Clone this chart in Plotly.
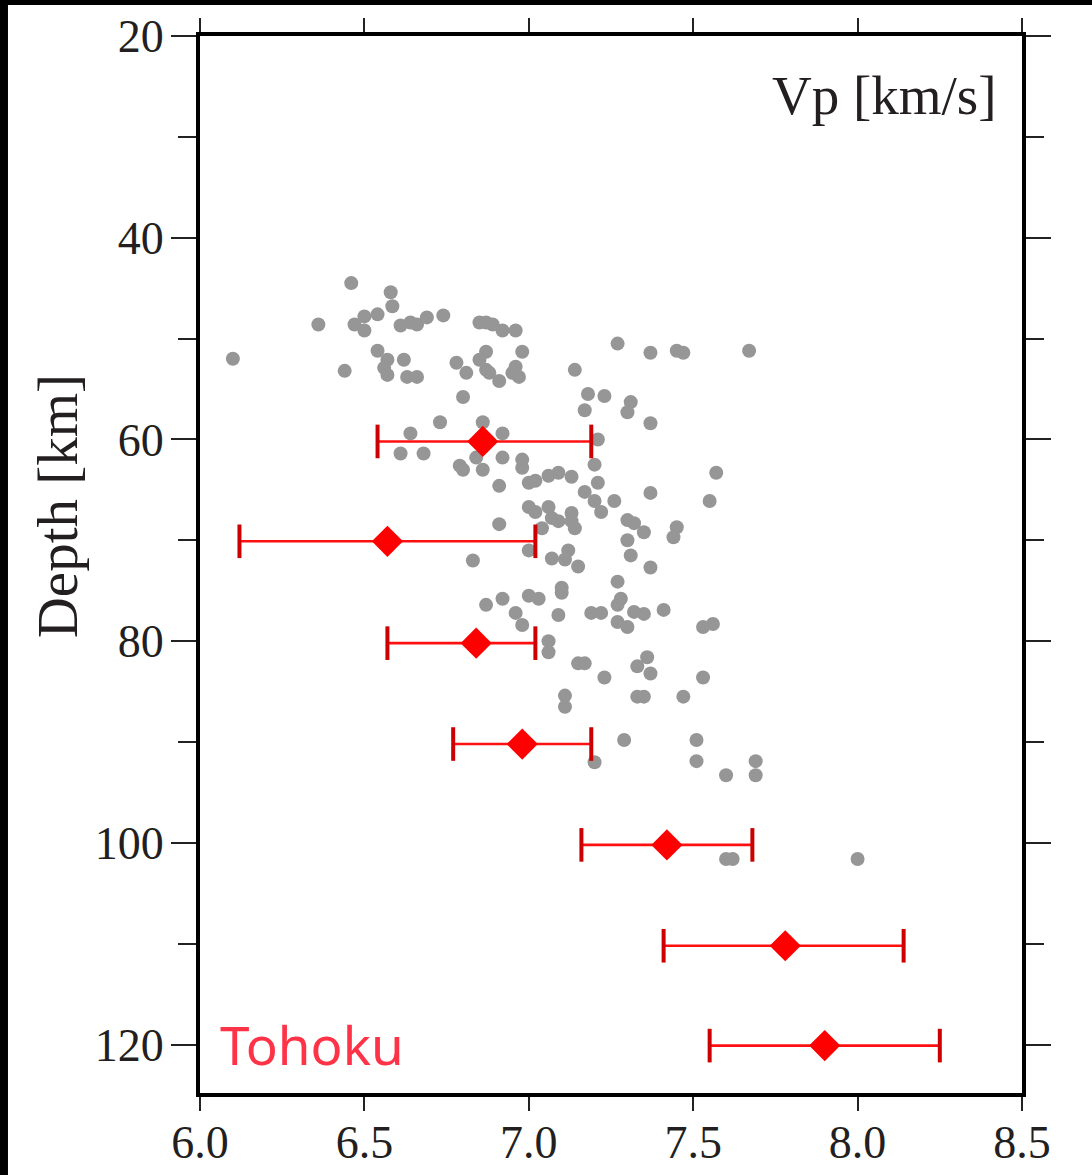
import plotly.graph_objects as go

# Individual P-wave velocity estimates (km/s) and their depths (km)
vp_samples = [
    6.46, 6.58, 6.585, 6.36, 6.10, 6.47, 6.50, 6.54, 6.50, 6.61,
    6.64, 6.66, 6.69, 6.74, 6.85, 6.87, 6.89, 6.92, 6.96, 6.98,
    6.54, 6.57, 6.62, 6.56, 6.57, 6.44, 6.63, 6.66, 6.78, 6.81,
    6.87, 6.85, 6.87, 6.88, 6.91, 6.95, 6.96, 6.97, 6.80, 6.73,
    6.86, 6.64, 6.92, 6.61, 6.68, 6.84, 6.92, 6.79, 6.80, 6.86,
    6.91, 6.98, 6.98, 7.00, 7.02, 7.00, 7.02, 7.06, 7.27, 7.37,
    7.45, 7.47, 7.67, 7.14, 7.18, 7.23, 7.17, 7.31, 7.30, 7.37,
    7.21, 7.20, 7.06, 7.09, 7.13, 7.21, 7.17, 7.20, 7.26, 7.37,
    7.57, 7.55, 7.22, 7.07, 7.09, 7.13, 7.13, 7.14, 7.04, 6.91,
    7.30, 7.32, 7.35, 7.30, 7.31, 7.45, 7.44, 7.00, 7.12, 7.07,
    7.11, 7.15, 6.83, 7.37, 7.27, 7.10, 7.10, 7.28, 7.27, 6.87,
    6.92, 7.00, 7.03, 6.96, 6.98, 7.09, 7.19, 7.22, 7.32, 7.35,
    7.41, 7.27, 7.30, 7.53, 7.56, 7.06, 7.06, 7.15, 7.17, 7.23,
    7.33, 7.36, 7.37, 7.53, 7.11, 7.11, 7.33, 7.35, 7.47, 7.29,
    7.51, 7.20, 7.51, 7.60, 7.69, 7.69, 7.60, 7.62, 8.00,
]
depth_samples = [
    44.5, 45.4, 46.8, 48.6, 52.0, 48.6, 47.8, 47.6, 49.2, 48.7,
    48.4, 48.6, 47.9, 47.7, 48.4, 48.4, 48.6, 49.2, 49.2, 51.3,
    51.2, 52.1, 52.1, 52.9, 53.6, 53.2, 53.8, 53.8, 52.4, 53.4,
    51.3, 52.1, 53.1, 53.4, 54.2, 53.4, 52.8, 53.8, 55.8, 58.3,
    58.3, 59.4, 59.4, 61.4, 61.4, 61.8, 61.8, 62.6, 63.0, 63.0,
    64.6, 62.0, 62.8, 64.3, 64.1, 66.7, 67.2, 66.7, 50.5, 51.4,
    51.2, 51.4, 51.2, 53.1, 55.5, 55.7, 57.1, 56.3, 57.3, 58.4,
    60.0, 62.5, 63.6, 63.3, 63.7, 64.3, 65.2, 66.1, 66.1, 65.3,
    63.3, 66.1, 67.2, 67.8, 68.1, 67.3, 68.1, 68.8, 68.8, 68.4,
    68.0, 68.3, 69.2, 70.0, 71.5, 68.7, 69.7, 71.0, 71.0, 71.8,
    71.9, 72.6, 72.0, 72.7, 74.1, 74.7, 75.2, 75.8, 76.4, 76.4,
    75.8, 75.5, 75.8, 77.2, 78.4, 77.4, 77.2, 77.2, 77.1, 77.3,
    76.9, 78.1, 78.6, 78.6, 78.3, 80.0, 81.1, 82.2, 82.2, 83.6,
    82.5, 81.6, 83.2, 83.6, 85.4, 86.5, 85.5, 85.5, 85.5, 89.8,
    89.8, 92.0, 91.9, 93.3, 91.9, 93.3, 101.6, 101.6, 101.6,
]

# Depth-binned mean velocity with lower / upper bounds
bin_depth = [60.2, 70.1, 80.2, 90.2, 100.2, 110.2, 120.1]
bin_vp = [6.86, 6.57, 6.84, 6.98, 7.42, 7.78, 7.90]
bin_vp_low = [6.54, 6.12, 6.57, 6.77, 7.16, 7.41, 7.55]
bin_vp_high = [7.19, 7.02, 7.02, 7.19, 7.68, 8.14, 8.25]

SERIF = "Liberation Serif, Times New Roman, serif"
TEXT_DARK = "#231f20"

err_plus = [h - m for h, m in zip(bin_vp_high, bin_vp)]
err_minus = [m - l for m, l in zip(bin_vp, bin_vp_low)]

fig = go.Figure()

# Scatter of individual estimates
fig.add_trace(go.Scatter(
    x=vp_samples, y=depth_samples, mode="markers",
    marker=dict(color="#969696", size=14, line=dict(width=0)),
    showlegend=False, hoverinfo="x+y",
))

# Horizontal range bars (no end caps here)
fig.add_trace(go.Scatter(
    x=bin_vp, y=bin_depth, mode="markers",
    marker=dict(size=1, color="rgba(0,0,0,0)"),
    error_x=dict(type="data", symmetric=False, array=err_plus,
                 arrayminus=err_minus, color="#ff1010",
                 thickness=2.6, width=0),
    showlegend=False, hoverinfo="skip",
))

# End caps of the range bars
fig.add_trace(go.Scatter(
    x=bin_vp_low + bin_vp_high, y=bin_depth + bin_depth, mode="markers",
    marker=dict(symbol="line-ns", size=24,
                line=dict(color="#cc0000", width=4)),
    showlegend=False, hoverinfo="skip",
))

# Binned means
fig.add_trace(go.Scatter(
    x=bin_vp, y=bin_depth, mode="markers",
    marker=dict(symbol="diamond", size=24, color="#ff0000",
                line=dict(width=0)),
    showlegend=False, hoverinfo="x+y",
))

fig.update_layout(
    width=1092, height=1175,
    margin=dict(l=200, r=70, t=36, b=82, autoexpand=False),
    paper_bgcolor="white", plot_bgcolor="white",
    font=dict(family=SERIF, color=TEXT_DARK),
    xaxis=dict(
        range=[6.0, 8.5], dtick=0.5, tick0=6.0, tickformat=".1f",
        showgrid=False, zeroline=False, automargin=False,
        showline=True, linewidth=4, linecolor="black", mirror="ticks",
        ticks="outside", ticklen=14, tickwidth=1.5, tickcolor="#222",
        tickfont=dict(family=SERIF, size=46, color=TEXT_DARK),
        ticklabelstandoff=-8,
    ),
    yaxis=dict(
        range=[124.8, 20], dtick=20, tick0=20,
        showgrid=False, zeroline=False, automargin=False,
        showline=True, linewidth=4, linecolor="black", mirror="ticks",
        ticks="outside", ticklen=25, tickwidth=1.5, tickcolor="#222",
        minor=dict(dtick=10, tick0=20, ticks="outside", ticklen=18,
                   tickwidth=1.5, tickcolor="#222", showgrid=False),
        tickfont=dict(family=SERIF, size=46, color=TEXT_DARK),
        ticklabelstandoff=-2,
    ),
    annotations=[
        # vertical axis label, set a little above the axis centre
        dict(x=-0.174, y=0.555, xref="paper", yref="paper",
             text="Depth [km]", textangle=-90, showarrow=False,
             xanchor="center", yanchor="middle",
             font=dict(family=SERIF, size=57, color=TEXT_DARK)),
        dict(x=8.43, y=25.9, xref="x", yref="y", text="Vp [km/s]",
             showarrow=False, xanchor="right", yanchor="middle",
             font=dict(family=SERIF, size=55, color=TEXT_DARK)),
        dict(x=6.056, y=120.0, xref="x", yref="y", text="Tohoku",
             showarrow=False, xanchor="left", yanchor="middle",
             font=dict(family="Noto Sans, Open Sans, sans-serif", size=53,
                       color="#ff3347")),
    ],
    shapes=[
        # dark bands along the top and left edges of the page
        dict(type="rect", xref="paper", yref="paper",
             x0=-0.2433, x1=1.0852, y0=1.0294, y1=1.04,
             fillcolor="black", line=dict(width=0), layer="above"),
        dict(type="rect", xref="paper", yref="paper",
             x0=-0.2433, x1=-0.2336, y0=-0.08, y1=1.04,
             fillcolor="black", line=dict(width=0), layer="above"),
    ],
)

fig.write_html("out.html")
